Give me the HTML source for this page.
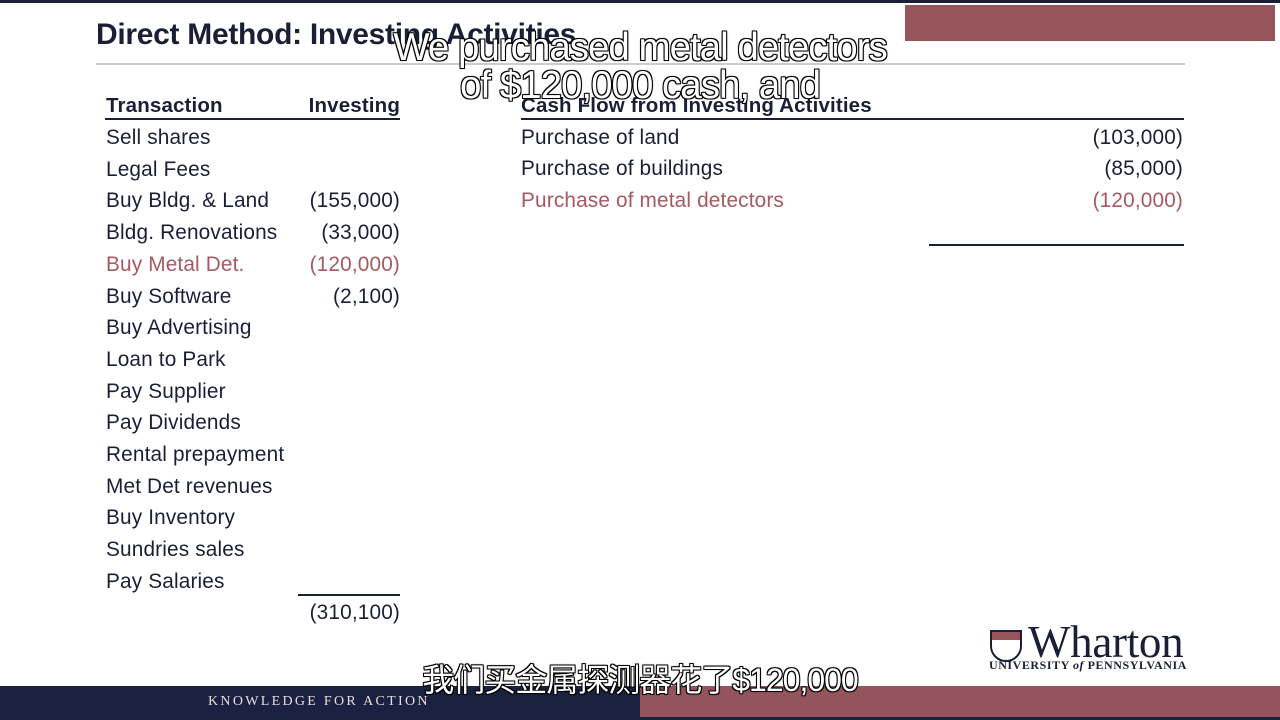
<!DOCTYPE html>
<html><head><meta charset="utf-8"><style>
body{margin:0;width:1280px;height:720px;overflow:hidden;background:#fff;position:relative;font-family:"Liberation Sans",Arial,sans-serif;color:#1b1f36}
div,span{position:absolute}
.t{font-size:20.8px;white-space:nowrap;line-height:24px;letter-spacing:0.15px}
.r{text-align:right}
.red{color:#a55a60}
.b{font-weight:bold;font-size:20.5px}
.sub{color:#fff;font-size:38.5px;white-space:nowrap;text-align:center;width:1280px;left:0;-webkit-text-stroke:1.5px #000;paint-order:stroke fill;text-shadow:0 0 2px #000,1px 1px 0 #000,-1px -1px 0 #000,1px -1px 0 #000,-1px 1px 0 #000;letter-spacing:-1px}
</style></head><body>
<div style="left:0;top:0;width:1280px;height:3px;background:#1b1f36"></div>
<div style="left:96px;top:18px;font-size:30px;font-weight:bold;white-space:nowrap;letter-spacing:-0.3px">Direct Method: Investing Activities</div>
<div style="left:96px;top:63px;width:1089px;height:2px;background:#ccc"></div>
<div style="left:905px;top:5px;width:370px;height:36px;background:#98545b"></div>

<div class="t b" style="left:106px;top:94px">Transaction</div>
<div class="t b r" style="left:290px;width:110px;top:94px">Investing</div>
<div style="left:105px;top:118px;width:295px;height:2px;background:#1b1f36"></div>
<div id="rows"></div>
<div style="left:298px;top:594px;width:102px;height:2px;background:#1b1f36"></div>
<div class="t r" style="left:280px;width:120px;top:601px">(310,100)</div>

<div class="t b" style="left:521px;top:94px">Cash Flow from Investing Activities</div>
<div style="left:521px;top:118px;width:663px;height:2px;background:#1b1f36"></div>
<div class="t" style="left:521px;top:126px">Purchase of land</div>
<div class="t r" style="left:1000px;width:183px;top:126px">(103,000)</div>
<div class="t" style="left:521px;top:157px">Purchase of buildings</div>
<div class="t r" style="left:1000px;width:183px;top:157px">(85,000)</div>
<div class="t red" style="left:521px;top:189px">Purchase of metal detectors</div>
<div class="t r red" style="left:1000px;width:183px;top:189px">(120,000)</div>
<div style="left:929px;top:244px;width:255px;height:2px;background:#1b1f36"></div>

<div class="sub" style="top:26px">We purchased metal detectors</div>
<div class="sub" style="top:64px">of $120,000 cash, and</div>

<div style="left:988px;top:628px;width:205px;height:45px">
<div style="left:2px;top:2px;width:32px;height:32px;border:2px solid #1b1f36;border-radius:0 0 16px 16px;box-sizing:border-box;background:#fff"><div style="left:0;top:0;width:28px;height:8px;background:#98545b"></div></div>
<div style="left:40px;top:-12px;font-family:'Liberation Serif',serif;font-size:45px;color:#1b1f36;white-space:nowrap;letter-spacing:-0.3px">Wharton</div>
<div style="left:1px;top:30px;font-family:'Liberation Serif',serif;font-size:12px;font-weight:bold;letter-spacing:0.55px;color:#1b1f36;white-space:nowrap">UNIVERSITY <i>of</i> PENNSYLVANIA</div>
</div>

<div style="left:0;top:686px;width:1280px;height:34px;background:#1b2140"></div>
<div style="left:640px;top:686px;width:640px;height:31px;background:#93545b"></div>
<div style="left:208px;top:694px;font-family:'Liberation Serif',serif;font-size:14px;letter-spacing:2.3px;color:#e6dede;white-space:nowrap">KNOWLEDGE FOR ACTION</div>
<div class="sub" style="top:655px;left:0;font-family:'Liberation Sans','Noto Sans CJK SC',sans-serif;font-size:32px">我们买金属探测器花了$120,000</div>

<script>
const labels=["Sell shares","Legal Fees","Buy Bldg. & Land","Bldg. Renovations","Buy Metal Det.","Buy Software","Buy Advertising","Loan to Park","Pay Supplier","Pay Dividends","Rental prepayment","Met Det revenues","Buy Inventory","Sundries sales","Pay Salaries"];
const values=["","","(155,000)","(33,000)","(120,000)","(2,100)","","","","","","","","",""];
const rows=document.getElementById('rows');
labels.forEach((l,i)=>{
  const top=126+i*31.7;
  const red=i===4?' red':'';
  const a=document.createElement('div');
  a.className='t'+red;a.style.left='106px';a.style.top=top+'px';a.textContent=l;
  
  
  rows.appendChild(a);
  if(values[i]){
    const v=document.createElement('div');
    v.className='t r'+red;v.style.left='270px';v.style.width='130px';v.style.top=top+'px';v.textContent=values[i];
    
    
    rows.appendChild(v);
  }
});
</script>
</body></html>
